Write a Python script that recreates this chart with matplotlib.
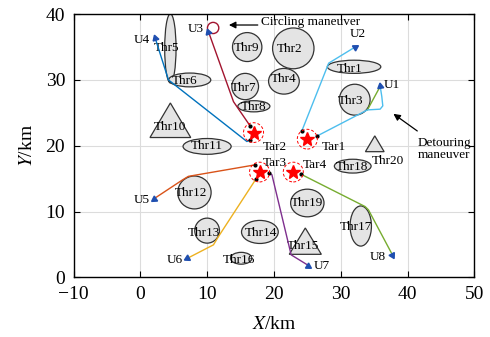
import numpy as np
import matplotlib
matplotlib.use('Agg')
import matplotlib.pyplot as plt
from matplotlib.patches import Ellipse, Polygon, Circle

plt.rcParams['font.family'] = ['Liberation Serif', 'DejaVu Serif']
plt.rcParams['mathtext.fontset'] = 'stix'

# threat areas: ellipses / circles (centre x, centre y, width, height)
ell_names = ['Thr1', 'Thr2', 'Thr3', 'Thr4', 'Thr5', 'Thr6', 'Thr7', 'Thr8', 'Thr9',
             'Thr11', 'Thr12', 'Thr13', 'Thr14', 'Thr16', 'Thr17', 'Thr18', 'Thr19']
ell_x = [32.0, 22.9, 32.1, 21.5, 4.5, 7.4, 15.7, 17.0, 16.0, 10.0, 8.1, 10.0, 17.9, 15.1, 33.0, 31.8, 25.0]
ell_y = [32.0, 34.8, 27.0, 29.8, 34.8, 30.0, 29.0, 26.0, 35.0, 19.9, 12.9, 7.1, 6.9, 2.9, 7.8, 16.9, 11.3]
ell_w = [8.0, 6.2, 4.6, 4.6, 1.7, 6.3, 4.0, 4.8, 4.4, 7.2, 5.0, 3.7, 5.5, 3.2, 3.2, 5.5, 5.0]
ell_h = [2.0, 6.2, 4.7, 3.9, 10.5, 2.1, 4.0, 1.7, 4.4, 2.4, 5.0, 3.8, 3.5, 1.8, 6.1, 2.1, 4.2]
ell_lx = [31.4, 22.4, 31.5, 21.4, 4.0, 6.7, 15.5, 16.9, 15.95, 10.0, 7.6, 9.5, 18.0, 14.7, 32.3, 31.7, 24.9]
ell_ly = [31.6, 34.7, 26.8, 30.2, 34.8, 29.9, 28.85, 25.9, 34.8, 19.9, 12.8, 6.8, 6.8, 2.65, 7.6, 16.8, 11.3]

# triangular threats (centre x, base y, apex y, half base)
tri_names = ['Thr10', 'Thr15', 'Thr20']
tri_x = [4.5, 24.7, 35.1]
tri_base = [21.25, 3.5, 19.1]
tri_top = [26.5, 7.5, 21.5]
tri_half = [3.05, 2.4, 1.4]
tri_lx = [4.5, 24.4, 34.65]
tri_ly = [22.9, 4.7, 17.7]

# targets
tar_names = ['Tar1', 'Tar2', 'Tar3', 'Tar4']
tar_x = [25.0, 16.95, 17.85, 22.9]
tar_y = [21.0, 22.0, 16.0, 16.0]
tar_lx = [27.2, 18.4, 18.4, 24.3]
tar_ly = [19.75, 19.75, 17.35, 17.0]

# UAV paths, from target end to UAV end
u1_x = [26.5, 34.0, 35.9, 36.3, 36.15, 35.9]
u1_y = [21.5, 25.45, 25.56, 26.06, 27.48, 29.1]
u1_plan_x = [35.9, 34.0]
u1_plan_y = [29.0, 25.45]
u2_x = [24.2, 28.2, 32.15]
u2_y = [22.3, 32.55, 35.0]
u3_x = [16.45, 13.95, 10.2]
u3_y = [23.0, 26.7, 37.35]
u4_x = [16.45, 15.95, 4.22, 2.23]
u4_y = [20.9, 20.65, 30.0, 36.35]
u5_x = [17.2, 7.2, 6.3, 1.98]
u5_y = [17.1, 15.35, 14.8, 11.9]
u6_x = [17.35, 11.7, 10.95, 7.06]
u6_y = [15.0, 6.2, 4.94, 2.9]
u7_x = [19.2, 19.7, 22.58, 25.17]
u7_y = [15.85, 15.6, 3.42, 1.8]
u8_x = [24.0, 33.65, 34.15, 37.74]
u8_y = [15.7, 10.76, 10.26, 3.42]

u_labels = ['U1', 'U2', 'U3', 'U4', 'U5', 'U6', 'U7', 'U8']
u_lx = [36.5, 31.3, 9.46, 1.48, 1.38, 6.3, 25.9, 36.8]
u_ly = [29.25, 36.96, 37.7, 36.0, 11.8, 2.66, 1.8, 3.07]
u_ha = ['left', 'left', 'right', 'right', 'right', 'right', 'left', 'right']

paths = [(u1_x, u1_y, '#4dbeee'), (u2_x, u2_y, '#4dbeee'), (u3_x, u3_y, '#a2142f'),
         (u4_x, u4_y, '#0072bd'), (u5_x, u5_y, '#d95319'), (u6_x, u6_y, '#edb120'),
         (u7_x, u7_y, '#7e2f8e'), (u8_x, u8_y, '#77ac30')]

fig = plt.figure(figsize=(4.9, 3.37), dpi=100)
ax = fig.add_axes([0.150, 0.177, 0.818, 0.781])
ax.set_xlim(-10, 50)
ax.set_ylim(0, 40)
ax.set_xticks(np.arange(-10, 51, 10))
ax.set_yticks(np.arange(0, 41, 10))
ax.grid(True, color='#dcdcdc', lw=0.8, zorder=0)
ax.set_axisbelow(True)
ax.tick_params(direction='in', length=4, width=0.8, labelsize=14, top=True, right=True)
ax.tick_params(axis='x', pad=6.5)
ax.tick_params(axis='y', pad=6)
ax.set_xticklabels(['\u221210', '0', '10', '20', '30', '40', '50'])
for s in ax.spines.values():
    s.set_linewidth(1.0)
ax.set_xlabel('$X$/km', fontsize=14, labelpad=9)
ax.set_ylabel('$Y$/km', fontsize=14, labelpad=7)

fs = 9.5
face = '#e4e4e4'
edge = '#333333'
for i in range(len(ell_names)):
    ax.add_patch(Ellipse((ell_x[i], ell_y[i]), ell_w[i], ell_h[i], fc=face, ec=edge, lw=0.9, zorder=2))
    ax.text(ell_lx[i], ell_ly[i], ell_names[i], fontsize=fs, ha='center', va='center', zorder=3)

for i in range(len(tri_names)):
    pts = [(tri_x[i] - tri_half[i], tri_base[i]), (tri_x[i] + tri_half[i], tri_base[i]), (tri_x[i], tri_top[i])]
    ax.add_patch(Polygon(pts, closed=True, fc=face, ec=edge, lw=0.9, zorder=2))
ax.text(tri_lx[0], tri_ly[0], tri_names[0], fontsize=fs, ha='center', va='center', zorder=3)
ax.text(tri_lx[1], tri_ly[1], tri_names[1], fontsize=fs, ha='center', va='center', zorder=3)
ax.text(tri_lx[2], tri_ly[2], tri_names[2], fontsize=fs, ha='left', va='center', zorder=3)

# original planned leg of U1 before the detour
ax.plot(u1_plan_x, u1_plan_y, color='#77ac30', lw=1.0, zorder=4)

fig.canvas.draw()
for px, py, c in paths:
    ax.plot(px, py, color=c, lw=1.0, zorder=4)
    ax.plot(px[0], py[0], 'o', color='black', ms=2.0, zorder=5)
    p1 = ax.transData.transform((px[-2], py[-2]))
    p2 = ax.transData.transform((px[-1], py[-1]))
    ang = np.degrees(np.arctan2(p2[1] - p1[1], p2[0] - p1[0]))
    ax.plot(px[-1], py[-1], marker=(3, 0, ang - 90), color='#1f4fb0', ms=5, mec='#1f4fb0', zorder=6)

# circling loop of U3
ax.add_patch(Circle((10.9, 37.9), 0.85, fill=False, ec='#a2142f', lw=1.0, zorder=4))

for i in range(len(tar_names)):
    ax.plot(tar_x[i], tar_y[i], '*', color='red', ms=10, mec='red', zorder=6)
    ax.add_patch(Circle((tar_x[i], tar_y[i]), 1.5, fill=False, ec='red', lw=0.7, ls=(0, (3, 2)), zorder=5))
    ax.text(tar_lx[i], tar_ly[i], tar_names[i], fontsize=fs, ha='left', va='center', zorder=7)

for i in range(len(u_labels)):
    ax.text(u_lx[i], u_ly[i], u_labels[i], fontsize=fs, ha=u_ha[i], va='center', zorder=7)

ax.annotate('', xy=(12.85, 38.35), xytext=(18.0, 38.35),
            arrowprops=dict(arrowstyle='-|>', color='black', lw=0.9, mutation_scale=10), zorder=7)
ax.text(18.1, 38.85, 'Circling maneuver', fontsize=fs, ha='left', va='center', zorder=7)

ax.annotate('', xy=(37.55, 25.1), xytext=(41.8, 22.0),
            arrowprops=dict(arrowstyle='-|>', color='black', lw=0.9, mutation_scale=10), zorder=7)
ax.text(45.5, 19.5, 'Detouring\nmaneuver', fontsize=fs, ha='center', va='center',
        linespacing=1.1, zorder=7)

fig.savefig('out.png', dpi=100)
